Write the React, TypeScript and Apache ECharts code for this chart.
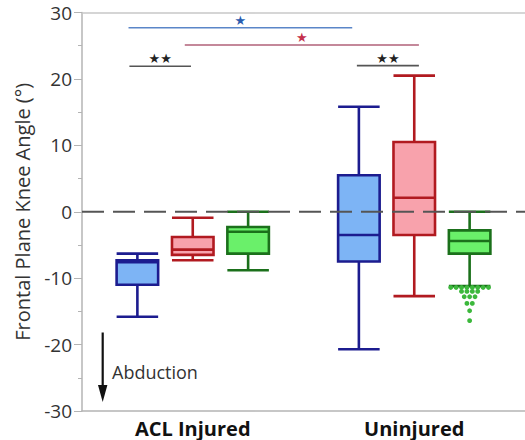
import React, { useEffect, useRef } from "react";
import * as echarts from "echarts";

// Groups on the horizontal axis
const groups = ["ACL Injured", "Uninjured"];

// Box statistics per group: [min, q1, median, q3, max]
const blueStats = [
  [-15.8, -11.0, -7.6, -7.3, -6.3],
  [-20.7, -7.5, -3.5, 5.5, 15.8],
];
const redStats = [
  [-7.3, -6.5, -5.7, -3.8, -0.9],
  [-12.7, -3.5, 2.1, 10.5, 20.5],
];
const greenStats = [
  [-8.8, -6.3, -3.0, -2.3, 0],
  [-11.2, -6.3, -4.4, -2.8, 0],
];

// Outlying values of the green series in the "Uninjured" group
const greenOutliers = [
  -11.4, -11.4, -11.4, -11.4, -11.4, -11.4, -11.4, -11.4,
  -12.0, -12.0, -12.0, -12.0,
  -12.8, -12.8, -12.8,
  -13.8, -13.8,
  -14.9,
  -16.4,
];

// Significance brackets: [from, to, height] on the value axes
const bracketSpans = [
  [-0.29, 0.72, 27.7],
  [-0.036, 1.021, 25.1],
  [-0.286, -0.008, 21.9],
  [0.741, 1.021, 22.0],
];
const bracketMarks = ["★", "★", "★★", "★★"];

const yTicks = { min: -30, max: 30, interval: 10 };

const BOX_W = 0.1875;
const OFFSETS = [-0.25, 0, 0.25];

const COLORS = [
  { stroke: "#1c1c8f", fill: "#7db4f5" },
  { stroke: "#b11a20", fill: "#f8a2ac" },
  { stroke: "#1b701b", fill: "#6af06a" },
];
const BRACKET_STYLE = [
  { line: "#5a86c8", mark: "#2a5db0" },
  { line: "#b06078", mark: "#c4304c" },
  { line: "#555555", mark: "#222222" },
  { line: "#555555", mark: "#222222" },
];

const FONT = "'Open Sans', 'Noto Sans', sans-serif";

function boxRenderer(offset: number, stroke: string, fill: string) {
  return (_params: any, api: any) => {
    const g = api.value(0) + offset;
    const v = [1, 2, 3, 4, 5].map((i) => api.value(i));
    const xl = api.coord([g - BOX_W / 2, 0])[0];
    const xr = api.coord([g + BOX_W / 2, 0])[0];
    const xc = api.coord([g, 0])[0];
    const y = (val: number) => api.coord([g, val])[1];
    const lw = 2.6;
    const ls = { stroke, lineWidth: lw };
    return {
      type: "group",
      children: [
        { type: "line", shape: { x1: xc, y1: y(v[4]), x2: xc, y2: y(v[3]) }, style: ls },
        { type: "line", shape: { x1: xc, y1: y(v[1]), x2: xc, y2: y(v[0]) }, style: ls },
        { type: "line", shape: { x1: xl, y1: y(v[4]), x2: xr, y2: y(v[4]) }, style: ls },
        { type: "line", shape: { x1: xl, y1: y(v[0]), x2: xr, y2: y(v[0]) }, style: ls },
        {
          type: "rect",
          shape: { x: xl, y: y(v[3]), width: xr - xl, height: y(v[1]) - y(v[3]) },
          style: { fill, stroke, lineWidth: lw },
        },
        { type: "line", shape: { x1: xl, y1: y(v[2]), x2: xr, y2: y(v[2]) }, style: ls },
      ],
    };
  };
}

export default function App() {
  const ref = useRef<HTMLDivElement>(null);

  useEffect(() => {
    if (!ref.current) return;
    const chart = echarts.init(ref.current, null, { renderer: "svg" });

    // Beeswarm slots: identical outlier values spread side by side
    const counts: Record<string, number> = {};
    greenOutliers.forEach((v) => (counts[v] = (counts[v] || 0) + 1));
    const seen: Record<string, number> = {};
    const outlierData = greenOutliers.map((v) => {
      const k = seen[v] || 0;
      seen[v] = k + 1;
      return [1 + OFFSETS[2], v, k - (counts[v] - 1) / 2];
    });

    const statSets = [blueStats, redStats, greenStats];
    const boxSeries = statSets.map((stats, si) => ({
      type: "custom",
      xAxisIndex: 1,
      yAxisIndex: 0,
      renderItem: boxRenderer(OFFSETS[si], COLORS[si].stroke, COLORS[si].fill),
      encode: { x: 0, y: [1, 2, 3, 4, 5] },
      data: stats.map((s, gi) => [gi, ...s]),
      z: 2,
    }));

    chart.setOption({
      animation: false,
      grid: { left: 82, right: -5, top: 12.5, bottom: 29 },
      xAxis: [
        {
          type: "category",
          data: groups,
          position: "bottom",
          axisLine: { show: true, onZero: false, lineStyle: { color: "#b4b4b4", width: 1.5 } },
          axisTick: { show: false },
          axisLabel: {
            fontFamily: FONT,
            fontSize: 20,
            fontWeight: "bold",
            color: "#111",
            margin: 7,
          },
        },
        {
          type: "value",
          min: -0.5,
          max: 1.5,
          position: "top",
          axisLine: { show: true, onZero: false, lineStyle: { color: "#c8c8c8", width: 1.5 } },
          axisTick: { show: false },
          axisLabel: { show: false },
          splitLine: { show: false },
        },
      ],
      yAxis: {
        type: "value",
        min: yTicks.min,
        max: yTicks.max,
        interval: yTicks.interval,
        name: "Frontal Plane Knee Angle (°)",
        nameLocation: "middle",
        nameRotate: 90,
        nameGap: 50,
        nameTextStyle: { fontFamily: FONT, fontSize: 20, color: "#333" },
        axisLine: { show: true, onZero: false, lineStyle: { color: "#b4b4b4", width: 1.5 } },
        axisTick: { show: true, length: 8, lineStyle: { color: "#b4b4b4" } },
        minorTick: { show: true, splitNumber: 2, length: 4, lineStyle: { color: "#b4b4b4" } },
        axisLabel: { fontFamily: FONT, fontSize: 19, color: "#333", margin: 10 },
        splitLine: { show: false },
      },
      series: [
        ...boxSeries,
        {
          type: "custom",
          xAxisIndex: 1,
          yAxisIndex: 0,
          encode: { x: 0, y: 1 },
          data: outlierData,
          z: 3,
          renderItem: (_p: any, api: any) => {
            const pt = api.coord([api.value(0), api.value(1)]);
            return {
              type: "circle",
              shape: { cx: pt[0] + api.value(2) * 5.4, cy: pt[1], r: 2.4 },
              style: { fill: "#3cb83c" },
            };
          },
        },
        {
          type: "line",
          xAxisIndex: 1,
          yAxisIndex: 0,
          data: [[-0.5, 0], [1.5, 0]],
          showSymbol: false,
          lineStyle: { color: "#555", width: 1.8, type: [22, 9] },
          z: 5,
        },
        {
          type: "custom",
          xAxisIndex: 1,
          yAxisIndex: 0,
          encode: { x: [0, 1], y: 2 },
          data: bracketSpans.map((b, i) => [...b, i]),
          z: 4,
          renderItem: (_p: any, api: any) => {
            const i = api.value(3);
            const a = api.coord([api.value(0), api.value(2)]);
            const b = api.coord([api.value(1), api.value(2)]);
            const st = BRACKET_STYLE[i];
            return {
              type: "group",
              children: [
                {
                  type: "line",
                  shape: { x1: a[0], y1: a[1], x2: b[0], y2: b[1] },
                  style: { stroke: st.line, lineWidth: 1.6 },
                },
                {
                  type: "text",
                  x: (a[0] + b[0]) / 2,
                  y: a[1] - 1,
                  style: {
                    text: bracketMarks[i],
                    fill: st.mark,
                    font: "13px 'DejaVu Sans'",
                    align: "center",
                    verticalAlign: "bottom",
                  },
                },
              ],
            };
          },
        },
      ],
      graphic: [
        {
          type: "line",
          shape: { x1: 102.7, y1: 332.5, x2: 102.7, y2: 390 },
          style: { stroke: "#111", lineWidth: 2.2 },
        },
        {
          type: "polygon",
          shape: { points: [[98, 385], [107.4, 385], [102.7, 402]] },
          style: { fill: "#111" },
        },
        {
          type: "text",
          x: 112,
          y: 372,
          style: {
            text: "Abduction",
            font: `18px ${FONT}`,
            fill: "#333",
            verticalAlign: "middle",
          },
        },
      ],
    });

    return () => chart.dispose();
  }, []);

  return (
    <div
      ref={ref}
      style={{ position: "fixed", left: 0, top: 0, width: 525, height: 440, background: "#fff" }}
    />
  );
}
